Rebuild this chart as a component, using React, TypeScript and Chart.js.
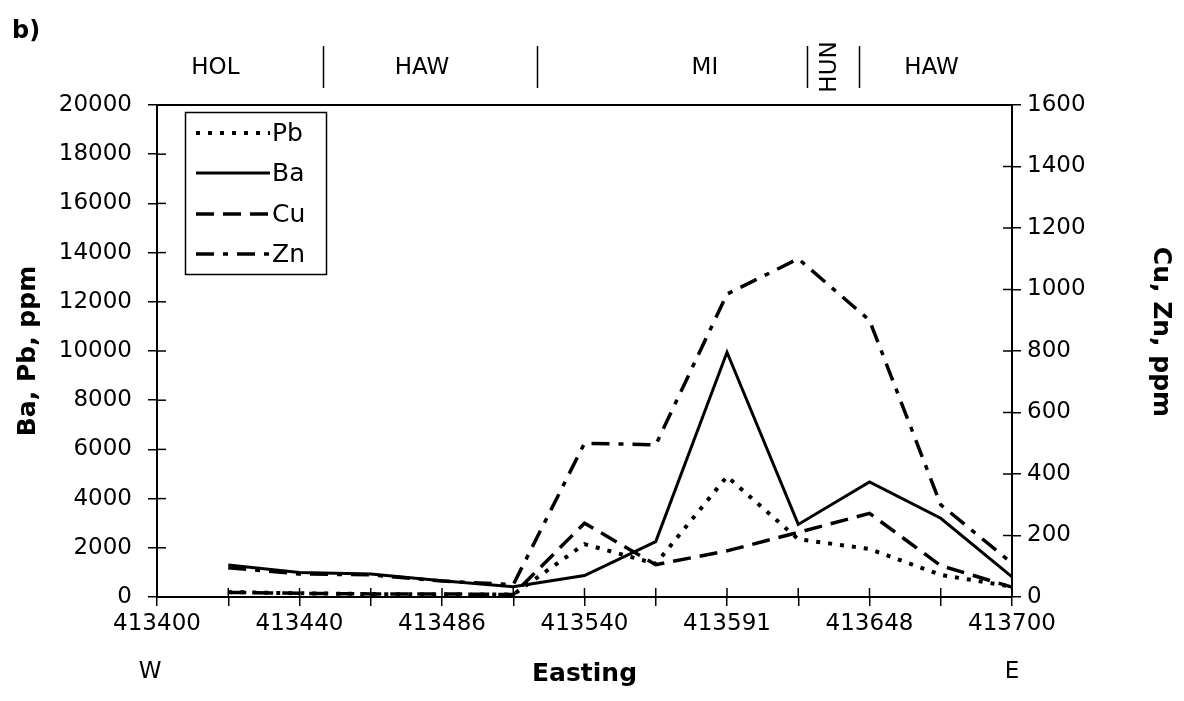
import React, { useEffect, useRef } from "react";
import { Chart, registerables } from "chart.js";

Chart.register(...registerables);

// ---- data ----
const tickLabels = ["413400", "413440", "413486", "413540", "413591", "413648", "413700"];
// sample positions: 13 category slots, labels on every other slot
const categories: string[] = [];
for (let i = 0; i < 13; i++) categories.push(i % 2 === 0 ? tickLabels[i / 2] : "");

const pbValues = [null, 200, 150, 120, 100, 100, 2150, 1350, 4900, 2350, 1950, 900, 420];
const baValues = [null, 1300, 1000, 930, 660, 420, 870, 2250, 9950, 2950, 4680, 3200, 820];
const cuValues = [null, 15, 12, 10, 10, 8, 240, 105, 150, 210, 272, 102, 32];
const znValues = [null, 95, 75, 72, 52, 40, 500, 495, 985, 1100, 900, 300, 110];

const leftTitle = "Ba, Pb, ppm";
const rightTitle = "Cu, Zn, ppm";
const xTitle = "Easting";
const unitNames = ["HOL", "HAW", "MI", "HUN", "HAW"];
// unit label centres and boundaries in category units along the x axis
const unitCentres = [0.82, 3.72, 7.69, 9.45, 10.87];
const unitBounds = [2.33, 5.33, 9.12, 9.85];

const FONT = "DejaVu Sans";

const styles: Record<string, { dash: number[]; width: number; cap: CanvasLineCap }> = {
  Pb: { dash: [4, 8], width: 4, cap: "butt" },
  Ba: { dash: [], width: 3, cap: "butt" },
  Cu: { dash: [18, 9], width: 3.5, cap: "butt" },
  Zn: { dash: [18, 9, 5, 9], width: 3.5, cap: "butt" },
};

const overlay = {
  id: "overlay",
  afterDraw(chart: any) {
    const { ctx, chartArea: ca, scales } = chart;
    const line = (x1: number, y1: number, x2: number, y2: number) => {
      ctx.beginPath();
      ctx.moveTo(x1, y1);
      ctx.lineTo(x2, y2);
      ctx.stroke();
    };
    ctx.save();
    ctx.strokeStyle = "#000";
    ctx.fillStyle = "#000";
    ctx.lineWidth = 2;
    ctx.setLineDash([]);
    // top frame
    line(ca.left, ca.top, ca.right, ca.top);
    // inner halves of crossing ticks
    ctx.lineWidth = 1.5;
    scales.y.ticks.forEach((_: any, i: number) => {
      const y = scales.y.getPixelForTick(i);
      line(ca.left, y, ca.left + 9, y);
    });
    scales.y1.ticks.forEach((_: any, i: number) => {
      const y = scales.y1.getPixelForTick(i);
      line(ca.right - 9, y, ca.right, y);
    });
    scales.x.ticks.forEach((_: any, i: number) => {
      const x = scales.x.getPixelForTick(i);
      line(x, ca.bottom, x, ca.bottom - 9);
    });

    // legend
    ctx.lineWidth = 1.5;
    ctx.strokeRect(185.5, 112.5, 141, 162);
    const rows = [133, 173, 214, 254];
    chart.data.datasets.forEach((ds: any, i: number) => {
      const st = styles[ds.label];
      ctx.save();
      ctx.lineWidth = st.width;
      ctx.setLineDash(st.dash);
      ctx.lineCap = st.cap;
      line(196, rows[i], 270, rows[i]);
      ctx.restore();
      ctx.font = `25px "${FONT}"`;
      ctx.textAlign = "left";
      ctx.textBaseline = "middle";
      ctx.fillText(ds.label, 272, rows[i] + 1);
    });

    // stratigraphic units along the top
    const step = (ca.right - ca.left) / 12;
    ctx.font = `23px "${FONT}"`;
    ctx.textBaseline = "middle";
    ctx.textAlign = "center";
    unitNames.forEach((n, i) => {
      const x = ca.left + unitCentres[i] * step;
      if (n === "HUN") {
        ctx.save();
        ctx.translate(x, 67);
        ctx.rotate(-Math.PI / 2);
        ctx.fillText(n, 0, 0);
        ctx.restore();
      } else {
        ctx.fillText(n, x, 68);
      }
    });
    ctx.lineWidth = 1.5;
    unitBounds.forEach((b) => {
      const x = Math.round(ca.left + b * step) + 0.5;
      line(x, 46, x, 88);
    });

    // right axis title
    ctx.save();
    ctx.font = `bold 25px "${FONT}"`;
    ctx.textAlign = "center";
    ctx.textBaseline = "middle";
    ctx.translate(1160, 332);
    ctx.rotate(Math.PI / 2);
    ctx.fillText(rightTitle, 0, 0);
    ctx.restore();

    // W / E, panel tag
    ctx.font = `23px "${FONT}"`;
    ctx.textAlign = "center";
    ctx.textBaseline = "middle";
    ctx.fillText("W", 150, 672);
    ctx.fillText("E", ca.right, 672);
    ctx.font = `bold 24px "${FONT}"`;
    ctx.textAlign = "left";
    ctx.fillText("b)", 12, 32);
    ctx.restore();
  },
};

export default function App() {
  const ref = useRef<HTMLCanvasElement>(null);
  useEffect(() => {
    document.body.style.margin = "0";
    const mk = (label: string, data: any[], axis: string) => ({
      label,
      data,
      yAxisID: axis,
      borderColor: "#000",
      backgroundColor: "#000",
      borderWidth: styles[label].width,
      borderDash: styles[label].dash,
      borderCapStyle: styles[label].cap,
      borderJoinStyle: "miter",
      pointRadius: 0,
      tension: 0,
      fill: false,
    });
    const tickFont = { family: FONT, size: 23 };
    const titleFont = { family: FONT, size: 25, weight: "bold" as const };
    const chart = new Chart(ref.current!, {
      type: "line",
      data: {
        labels: categories,
        datasets: [
          mk("Pb", pbValues, "y"),
          mk("Ba", baValues, "y"),
          mk("Cu", cuValues, "y1"),
          mk("Zn", znValues, "y1"),
        ],
      },
      options: {
        responsive: false,
        animation: false,
        layout: { padding: { top: 105, left: 0, right: 0, bottom: 0 } },
        plugins: { legend: { display: false }, tooltip: { enabled: false } },
        scales: {
          x: {
            type: "category",
            offset: false,
            grid: { display: true, drawOnChartArea: false, drawTicks: true, tickLength: 9, color: "#000", lineWidth: 1.5, offset: false },
            border: { display: true, color: "#000", width: 2 },
            ticks: { autoSkip: false, maxRotation: 0, minRotation: 0, color: "#000", font: tickFont, padding: 4 },
            title: { display: true, text: xTitle, color: "#000", font: titleFont, padding: { top: 0, bottom: 12 } },
            afterFit: (s: any) => { s.height = 104; },
          },
          y: {
            type: "linear",
            position: "left",
            min: 0,
            max: 20000,
            ticks: { stepSize: 2000, color: "#000", font: tickFont, padding: 16, callback: (v: any) => String(v) },
            grid: { display: true, drawOnChartArea: false, drawTicks: true, tickLength: 9, color: "#000", lineWidth: 1.5 },
            border: { display: true, color: "#000", width: 2 },
            title: { display: true, text: leftTitle, color: "#000", font: titleFont, padding: { top: 13, bottom: 0 } },
            afterFit: (s: any) => { s.width = 157; },
          },
          y1: {
            type: "linear",
            position: "right",
            min: 0,
            max: 1600,
            ticks: { stepSize: 200, color: "#000", font: tickFont, padding: 6, callback: (v: any) => String(v) },
            grid: { display: true, drawOnChartArea: false, drawTicks: true, tickLength: 9, color: "#000", lineWidth: 1.5 },
            border: { display: true, color: "#000", width: 2 },
            title: { display: false, text: rightTitle },
            afterFit: (s: any) => { s.width = 172; },
          },
        },
      },
      plugins: [overlay],
    } as any);
    return () => chart.destroy();
  }, []);
  return (
    <div style={{ position: "fixed", left: 0, top: 0, width: 1184, height: 701, background: "#fff" }}>
      <canvas ref={ref} width={1184} height={701} style={{ display: "block" }} />
    </div>
  );
}
